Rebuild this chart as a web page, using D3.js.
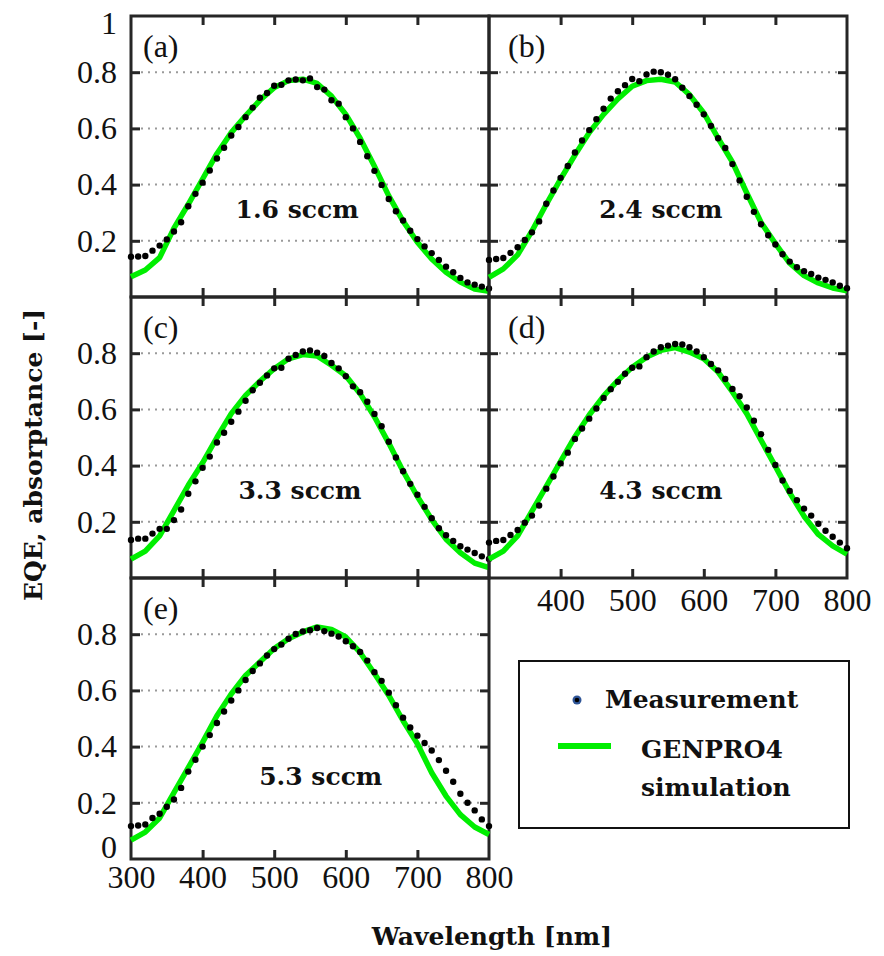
<!DOCTYPE html>
<html>
<head>
<meta charset="utf-8">
<script src="https://cdn.jsdelivr.net/npm/d3@7"></script>
<style>
  body { margin: 0; background: #fff; }
  .tick-label { font-family: "Liberation Serif", serif; font-size: 32px; fill: #111; }
  .bold-text { font-family: "DejaVu Serif", serif; font-weight: bold; font-size: 25px; fill: #111; }
</style>
</head>
<body>
<div id="chart"></div>
<script>
// measured wavelengths (nm) and simulation wavelengths (nm)
const measWl = [300,310,320,330,340,350,360,370,380,390,400,410,420,430,440,450,460,470,480,490,
    500,510,520,530,540,550,560,570,580,590,600,610,620,630,640,650,660,670,680,690,
    700,710,720,730,740,750,760,770,780,790,800];
const simWl = [300,320,340,360,380,400,420,440,460,480,500,520,540,560,580,600,620,640,660,680,
    700,720,740,760,780,800];

const panelLabels = ["(a)", "(b)", "(c)", "(d)", "(e)"];
const flowLabels = ["1.6 sccm", "2.4 sccm", "3.3 sccm", "4.3 sccm", "5.3 sccm"];

const measA = [0.143,0.144,0.146,0.165,0.183,0.205,0.233,0.266,0.323,0.367,
    0.407,0.450,0.493,0.531,0.575,0.605,0.640,0.674,0.709,0.726,
    0.752,0.755,0.771,0.774,0.771,0.778,0.747,0.738,0.700,0.688,
    0.640,0.600,0.552,0.501,0.449,0.399,0.349,0.305,0.272,0.236,
    0.206,0.180,0.156,0.132,0.108,0.088,0.068,0.052,0.044,0.037,0.030];
const simA = [0.072,0.096,0.140,0.245,0.33,0.42,0.51,0.585,0.645,0.70,0.745,0.77,0.775,0.76,0.715,
    0.65,0.565,0.465,0.36,0.27,0.195,0.135,0.088,0.053,0.028,0.02];

const measB = [0.132,0.135,0.139,0.157,0.177,0.203,0.230,0.269,0.332,0.379,
    0.424,0.466,0.514,0.557,0.594,0.633,0.670,0.706,0.732,0.754,
    0.776,0.768,0.792,0.802,0.800,0.791,0.775,0.745,0.715,0.684,
    0.650,0.609,0.565,0.530,0.473,0.415,0.357,0.303,0.259,0.220,
    0.187,0.152,0.126,0.106,0.092,0.082,0.069,0.061,0.052,0.040,0.031];
const simB = [0.070,0.10,0.15,0.235,0.33,0.42,0.505,0.585,0.65,0.705,0.75,0.77,0.775,0.765,0.72,
    0.655,0.565,0.48,0.37,0.265,0.19,0.12,0.076,0.05,0.032,0.022];

const measC = [0.135,0.140,0.140,0.158,0.175,0.175,0.206,0.244,0.300,0.344,
    0.392,0.432,0.482,0.517,0.556,0.592,0.631,0.668,0.695,0.721,
    0.746,0.748,0.780,0.794,0.806,0.810,0.802,0.790,0.765,0.746,
    0.718,0.682,0.661,0.627,0.584,0.540,0.485,0.429,0.380,0.335,
    0.296,0.253,0.213,0.177,0.152,0.132,0.113,0.101,0.089,0.077,0.068];
const simC = [0.067,0.096,0.15,0.24,0.33,0.41,0.50,0.585,0.65,0.70,0.745,0.78,0.795,0.79,0.757,
    0.72,0.656,0.574,0.48,0.38,0.29,0.208,0.138,0.09,0.053,0.037];

const measD = [0.126,0.132,0.135,0.153,0.171,0.197,0.222,0.258,0.318,0.361,
    0.408,0.446,0.495,0.532,0.567,0.603,0.641,0.672,0.698,0.727,
    0.748,0.753,0.786,0.806,0.821,0.827,0.833,0.831,0.821,0.806,
    0.786,0.762,0.739,0.708,0.673,0.647,0.607,0.560,0.512,0.456,
    0.402,0.347,0.310,0.277,0.247,0.222,0.193,0.168,0.147,0.126,0.106];
const simD = [0.067,0.096,0.15,0.238,0.326,0.415,0.503,0.58,0.647,0.703,0.75,0.786,0.81,0.82,0.804,
    0.78,0.733,0.662,0.585,0.49,0.397,0.303,0.22,0.155,0.114,0.085];

const measE = [0.117,0.119,0.123,0.146,0.161,0.186,0.212,0.253,0.311,0.353,
    0.400,0.441,0.484,0.525,0.564,0.600,0.637,0.669,0.696,0.724,
    0.747,0.763,0.784,0.801,0.810,0.814,0.822,0.811,0.802,0.792,
    0.775,0.757,0.737,0.706,0.665,0.634,0.592,0.547,0.503,0.468,
    0.439,0.413,0.386,0.352,0.314,0.275,0.232,0.200,0.173,0.141,0.117];
const simE = [0.067,0.096,0.146,0.236,0.325,0.415,0.51,0.587,0.653,0.701,0.749,0.784,0.808,0.826,0.817,
    0.79,0.735,0.66,0.582,0.492,0.41,0.307,0.224,0.158,0.114,0.087];

const xTicks = [300, 400, 500, 600, 700, 800];
const yTicks = [0.2, 0.4, 0.6, 0.8];

const panels = [
    {label: panelLabels[0], flow: flowLabels[0], meas: measA, sim: simA, col: 0, row: 0,
        yLabels: [1, 0.8, 0.6, 0.4, 0.2], xLabels: []},
    {label: panelLabels[1], flow: flowLabels[1], meas: measB, sim: simB, col: 1, row: 0,
        yLabels: [], xLabels: []},
    {label: panelLabels[2], flow: flowLabels[2], meas: measC, sim: simC, col: 0, row: 1,
        yLabels: [0.8, 0.6, 0.4, 0.2], xLabels: []},
    {label: panelLabels[3], flow: flowLabels[3], meas: measD, sim: simD, col: 1, row: 1,
        yLabels: [], xLabels: [400, 500, 600, 700, 800]},
    {label: panelLabels[4], flow: flowLabels[4], meas: measE, sim: simE, col: 0, row: 2,
        yLabels: [0.8, 0.6, 0.4, 0.2, 0], xLabels: xTicks}
];

// where the flow-rate text sits, in data units (wavelength, value)
const flowPos = [[532, 0.28], [540, 0.28], [536, 0.28], [540, 0.28], [565, 0.265]];

const W = 884, H = 956;
const plotLeft = 131, plotTop = 16, pw = 358, ph = 281;
const frameColor = "#262626";
const green = "#00ee00";

const svg = d3.select("#chart").append("svg")
    .attr("width", W)
    .attr("height", H);

panels.forEach((p, i) => {
    const x0 = plotLeft + p.col * pw;
    const y0 = plotTop + p.row * ph;

    const x = d3.scaleLinear().domain([300, 800]).range([0, pw]);
    const y = d3.scaleLinear().domain([0, 1]).range([ph, 0]);

    const g = svg.append("g").attr("transform", `translate(${x0},${y0})`);

    // dotted grid
    g.selectAll("line.grid").data(yTicks).enter().append("line")
        .attr("class", "grid")
        .attr("x1", 10).attr("x2", pw - 10)
        .attr("y1", d => y(d)).attr("y2", d => y(d))
        .attr("stroke", "#9a9a9a")
        .attr("stroke-width", 2)
        .attr("stroke-dasharray", "2,5");

    // inward ticks on all sides
    const tickAxes = [
        [d3.axisBottom(x).tickValues(xTicks.slice(1, -1)), `translate(0,${ph})`],
        [d3.axisTop(x).tickValues(xTicks.slice(1, -1)), "translate(0,0)"],
        [d3.axisLeft(y).tickValues(yTicks), "translate(0,0)"],
        [d3.axisRight(y).tickValues(yTicks), `translate(${pw},0)`]
    ];
    tickAxes.forEach(([ax, tr]) => {
        const a = g.append("g").attr("transform", tr)
            .call(ax.tickSizeInner(-9).tickSizeOuter(0).tickFormat(""));
        a.select(".domain").remove();
        a.selectAll(".tick line").attr("stroke", frameColor).attr("stroke-width", 3);
    });

    // frame
    g.append("rect")
        .attr("x", 0).attr("y", 0)
        .attr("width", pw).attr("height", ph)
        .attr("fill", "none")
        .attr("stroke", frameColor)
        .attr("stroke-width", 3);

    // y labels
    if (p.yLabels.length) {
        const ya = g.append("g")
            .call(d3.axisLeft(y).tickValues(p.yLabels).tickSize(0).tickPadding(14)
                .tickFormat(d => d === 1 ? "1" : d === 0 ? "0" : d3.format(".1f")(d)));
        ya.select(".domain").remove();
        ya.attr("font-family", null).attr("font-size", null);
        ya.selectAll(".tick text")
            .attr("class", "tick-label")
            .attr("transform", d => d === 1 ? "translate(0,7)" : d === 0 ? "translate(0,-12)" : null);
    }

    // x labels
    if (p.xLabels.length) {
        const xa = g.append("g").attr("transform", `translate(0,${ph})`)
            .call(d3.axisBottom(x).tickValues(p.xLabels).tickSize(0).tickPadding(p.row === 2 ? 6 : 10));
        xa.select(".domain").remove();
        xa.attr("font-family", null).attr("font-size", null);
        xa.selectAll(".tick text")
            .attr("class", "tick-label")
            .attr("dy", "0.71em");
    }

    // simulation line
    const line = d3.line()
        .x((d, j) => x(simWl[j]))
        .y(d => y(d));
    g.append("path")
        .datum(p.sim)
        .attr("d", line)
        .attr("fill", "none")
        .attr("stroke", green)
        .attr("stroke-width", 5.5)
        .attr("stroke-linejoin", "round");

    // measurement dots
    g.selectAll("circle.meas").data(p.meas).enter().append("circle")
        .attr("class", "meas")
        .attr("cx", (d, j) => x(measWl[j]))
        .attr("cy", d => y(d))
        .attr("r", 3.2)
        .attr("fill", "#000");

    // panel label
    g.append("text")
        .attr("class", "tick-label")
        .attr("x", p.col === 0 ? 12 : 19)
        .attr("y", 41)
        .text(p.label);

    // flow rate label
    g.append("text")
        .attr("class", "bold-text")
        .attr("text-anchor", "middle")
        .attr("x", x(flowPos[i][0]))
        .attr("y", y(flowPos[i][1]))
        .text(p.flow);
});

// axis titles
svg.append("text")
    .attr("class", "bold-text")
    .attr("text-anchor", "middle")
    .attr("transform", "translate(42,455) rotate(-90)")
    .text("EQE, absorptance [-]");

svg.append("text")
    .attr("class", "bold-text")
    .attr("text-anchor", "middle")
    .attr("x", 492)
    .attr("y", 945)
    .text("Wavelength [nm]");

// legend
const lg = svg.append("g").attr("transform", "translate(519,661)");
lg.append("rect")
    .attr("width", 330).attr("height", 167)
    .attr("fill", "#fff")
    .attr("stroke", "#111")
    .attr("stroke-width", 2);
lg.append("circle").attr("cx", 58).attr("cy", 39).attr("r", 4.5).attr("fill", "#2f5597");
lg.append("circle").attr("cx", 58).attr("cy", 39).attr("r", 2.3).attr("fill", "#000");
lg.append("text").attr("class", "bold-text").attr("x", 86).attr("y", 47).text("Measurement");
lg.append("line")
    .attr("x1", 39).attr("x2", 92).attr("y1", 85).attr("y2", 85)
    .attr("stroke", green).attr("stroke-width", 6);
lg.append("text").attr("class", "bold-text").attr("x", 122).attr("y", 97).text("GENPRO4");
lg.append("text").attr("class", "bold-text").attr("x", 122).attr("y", 135).text("simulation");
</script>
</body>
</html>
